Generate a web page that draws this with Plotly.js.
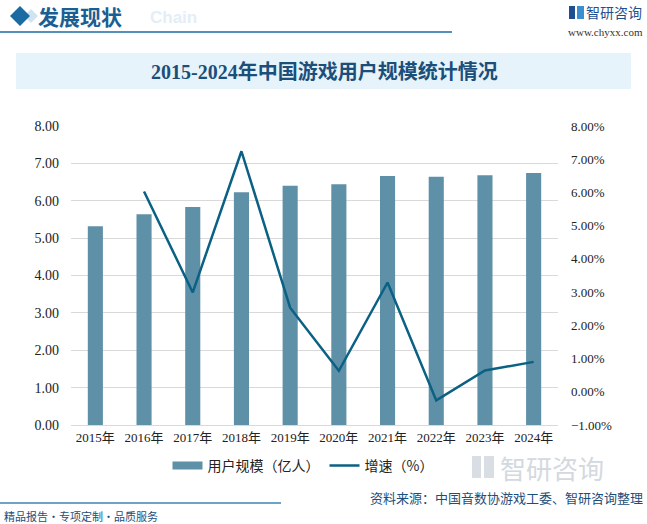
<!DOCTYPE html>
<html>
<head>
<meta charset="utf-8">
<script src="https://cdn.plot.ly/plotly-3.0.1.min.js"></script>
<style>
  body { margin: 0; background: #fff; }
  #chart { width: 647px; height: 524px; }
</style>
</head>
<body>
<div id="chart"></div>
<script>
var years = ["2015年", "2016年", "2017年", "2018年", "2019年", "2020年", "2021年", "2022年", "2023年", "2024年"];
var users = [5.32, 5.64, 5.83, 6.23, 6.40, 6.44, 6.66, 6.64, 6.68, 6.74];
var growth = [null, 6.03, 2.99, 7.24, 2.53, 0.63, 3.29, -0.26, 0.64, 0.90];

// plot area in pixels: x 71..558, y 126..425
function px(x) { return (x - 71) / 487; }
function py(y) { return (425 - y) / 299; }

var serif = "Liberation Serif, Noto Sans CJK SC, serif";
var cjk = "Noto Sans CJK SC, sans-serif";
var barColor = "#5e90a8";

var barTrace = {
    x: years,
    y: users,
    type: "bar",
    name: "用户规模（亿人）",
    marker: {color: barColor},
    width: 0.31,
    showlegend: false
};

// legend entry with a wide swatch like the original
var barLegend = {
    x: [null],
    y: [null],
    type: "scatter",
    mode: "lines",
    name: "用户规模（亿人）",
    line: {color: barColor, width: 8}
};

var lineTrace = {
    x: years,
    y: growth,
    type: "scatter",
    mode: "lines",
    name: "增速（%）",
    yaxis: "y2",
    line: {color: "#0b6183", width: 2.5}
};

var layout = {
    width: 647,
    height: 524,
    margin: {l: 71, r: 89, t: 126, b: 99},
    paper_bgcolor: "#ffffff",
    plot_bgcolor: "#ffffff",
    font: {family: serif, size: 13, color: "#333333"},
    showlegend: true,
    legend: {
        orientation: "h",
        x: px(303), xanchor: "center",
        y: py(466), yanchor: "middle",
        font: {family: cjk, size: 14, color: "#222222"},
        itemwidth: 30,
        tracegroupgap: 0
    },
    xaxis: {
        type: "category",
        showgrid: false,
        showline: true,
        linecolor: "#d9d9d9",
        ticks: "",
        tickfont: {family: serif, size: 13, color: "#222222"}
    },
    yaxis: {
        range: [0, 8],
        dtick: 1,
        tickformat: ".2f",
        showgrid: true,
        gridcolor: "#d9d9d9",
        zeroline: false,
        ticks: "",
        ticklabelstandoff: 11,
        tickfont: {family: serif, size: 14, color: "#222222"}
    },
    yaxis2: {
        overlaying: "y",
        side: "right",
        range: [-1, 8],
        dtick: 1,
        tickformat: ".2f",
        ticksuffix: "%",
        showgrid: false,
        zeroline: false,
        ticks: "",
        ticklabelstandoff: 12,
        tickfont: {family: serif, size: 13, color: "#222222"}
    },
    shapes: [
        // title band
        {type: "rect", xref: "paper", yref: "paper",
         x0: px(16), x1: px(631), y0: py(53), y1: py(89),
         fillcolor: "#e6f3fb", line: {width: 0}, layer: "below"},
        // header line
        {type: "line", xref: "paper", yref: "paper",
         x0: px(0), x1: px(452), y0: py(32), y1: py(32),
         line: {color: "#1b6ca0", width: 1.5}},
        // header diamonds
        {type: "path", xref: "paper", yref: "paper",
         path: "M " + px(20) + " " + py(6) + " L " + px(30) + " " + py(16) +
               " L " + px(20) + " " + py(26) + " L " + px(10) + " " + py(16) + " Z",
         fillcolor: "#1a6aa3", line: {width: 0}},
        {type: "path", xref: "paper", yref: "paper",
         path: "M " + px(31) + " " + py(9) + " L " + px(38) + " " + py(16) +
               " L " + px(31) + " " + py(23) + " L " + px(24) + " " + py(16) + " Z",
         fillcolor: "#cfe3f1", line: {width: 0}, layer: "below"},
        // footer line
        {type: "line", xref: "paper", yref: "paper",
         x0: px(0), x1: px(281), y0: py(503), y1: py(503),
         line: {color: "#3f83b5", width: 1.5}},
        // top logo
        {type: "rect", xref: "paper", yref: "paper",
         x0: px(569), x1: px(575), y0: py(6), y1: py(19),
         fillcolor: "#1f4f8f", line: {width: 0}},
        {type: "rect", xref: "paper", yref: "paper",
         x0: px(577), x1: px(584), y0: py(6), y1: py(19),
         fillcolor: "#3a8fd0", line: {width: 0}},
        // faint bottom logo
        {type: "rect", xref: "paper", yref: "paper",
         x0: px(472), x1: px(481), y0: py(456), y1: py(478),
         fillcolor: "#d8dee4", line: {width: 0}},
        {type: "rect", xref: "paper", yref: "paper",
         x0: px(484), x1: px(494), y0: py(456), y1: py(478),
         fillcolor: "#d8dee4", line: {width: 0}}
    ],
    annotations: [
        {xref: "paper", yref: "paper", x: px(148), y: py(17), xanchor: "left", yanchor: "middle",
         text: "<b>Chain</b>", showarrow: false,
         font: {family: "Liberation Sans, sans-serif", size: 17, color: "#e3eef7"}},
        {xref: "paper", yref: "paper", x: px(36), y: py(16), xanchor: "left", yanchor: "middle",
         text: "<b>发展现状</b>", showarrow: false,
         font: {family: cjk, size: 21, color: "#1a5f93"}},
        {xref: "paper", yref: "paper", x: px(644), y: py(12), xanchor: "right", yanchor: "middle",
         text: "智研咨询", showarrow: false,
         font: {family: cjk, size: 14, color: "#1f4f8f"}},
        {xref: "paper", yref: "paper", x: px(645), y: py(32), xanchor: "right", yanchor: "middle",
         text: "www.chyxx.com", showarrow: false,
         font: {family: serif, size: 11, color: "#333333"}},
        {xref: "paper", yref: "paper", x: px(324), y: py(72), xanchor: "center", yanchor: "middle",
         text: "<b>2015-2024年中国游戏用户规模统计情况</b>", showarrow: false,
         font: {family: serif, size: 20, color: "#1c4e7a"}},
        {xref: "paper", yref: "paper", x: px(498), y: py(467), xanchor: "left", yanchor: "middle",
         text: "智研咨询", showarrow: false,
         font: {family: cjk, size: 26, color: "#d3d9df"}},
        {xref: "paper", yref: "paper", x: px(645), y: py(497), xanchor: "right", yanchor: "middle",
         text: "资料来源：中国音数协游戏工委、智研咨询整理", showarrow: false,
         font: {family: cjk, size: 13, color: "#1c4e7a"}},
        {xref: "paper", yref: "paper", x: px(2), y: py(516), xanchor: "left", yanchor: "middle",
         text: "精品报告・专项定制・品质服务", showarrow: false,
         font: {family: cjk, size: 11, color: "#1c4e7a"}}
    ]
};

Plotly.newPlot("chart", [barTrace, barLegend, lineTrace], layout, {displayModeBar: false});
</script>
</body>
</html>
